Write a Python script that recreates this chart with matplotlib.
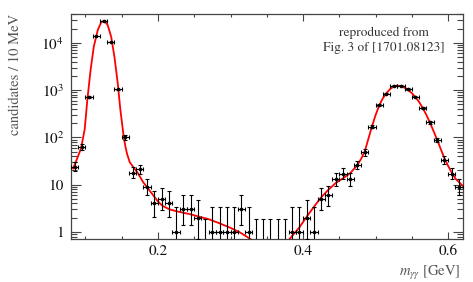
import numpy as np
import matplotlib
matplotlib.use('Agg')
import matplotlib.pyplot as plt
from matplotlib.ticker import MultipleLocator, FuncFormatter, LogLocator, NullFormatter, FormatStrFormatter

plt.rcParams['font.family'] = 'STIXGeneral'
plt.rcParams['mathtext.fontset'] = 'stix'

# diphoton mass bins, 10 MeV wide
bin_centers = np.round(np.arange(0.085, 0.616, 0.01), 3)
counts = [24, 63, 710, 13900, 29000, 10500, 1030, 100, 18, 21,
          9, 4, 5, 4, 1, 3, 3, 2, 0, 1,
          1, 1, 1, 3, 1, 0, 0, 0, 0, 0,
          1, 1, 2, 1, 5, 6, 13, 17, 13, 26,
          48, 168, 484, 840, 1240, 1240, 1050, 730, 425, 209,
          88, 33, 17, 9]

# fit curve (pi0 side and eta side)
fit1_x = [0.083, 0.088, 0.094, 0.099, 0.1025, 0.107, 0.1115, 0.117, 0.1215, 0.1255,
          0.1305, 0.1355, 0.140, 0.1445, 0.148, 0.1525, 0.155, 0.1575, 0.161, 0.1655,
          0.1725, 0.179, 0.186, 0.193, 0.200, 0.2065, 0.216, 0.2295, 0.243, 0.257,
          0.2705, 0.2845, 0.298, 0.312, 0.321, 0.3292]
fit1_y = [22, 34, 59, 150, 600, 2600, 8300, 18600, 26800, 29500,
          24000, 13400, 5000, 1400, 400, 110, 65, 44, 30, 24,
          17.4, 11.6, 8.4, 6.1, 4.4, 3.55, 3.0, 2.65, 2.4, 2.1,
          1.85, 1.53, 1.26, 1.0, 0.82, 0.68]
fit2_x = [0.3804, 0.395, 0.405, 0.415, 0.425, 0.435, 0.445, 0.455, 0.465, 0.475,
          0.48, 0.485, 0.49, 0.495, 0.50, 0.505, 0.51, 0.515, 0.52, 0.525,
          0.53, 0.535, 0.54, 0.545, 0.55, 0.555, 0.56, 0.565, 0.57, 0.575,
          0.58, 0.585, 0.59, 0.595, 0.60, 0.605, 0.61, 0.62]
fit2_y = [0.68, 1.25, 2.1, 3.4, 5.4, 7.8, 10.8, 13.6, 17.5, 26,
          35, 50, 92, 170, 295, 470, 670, 860, 1050, 1190,
          1240, 1210, 1120, 1000, 860, 710, 560, 420, 300, 205,
          135, 88, 56, 36, 25, 18, 13.5, 9.5]

n = np.array(counts, dtype=float)
x = bin_centers
nz = n > 0

# approximate poisson 68% intervals (Gehrels)
err_hi = 1 + np.sqrt(n + 0.75)
err_lo = np.zeros_like(n)
err_lo[nz] = n[nz] - n[nz] * (1 - 1/(9*n[nz]) - 1/(3*np.sqrt(n[nz])))**3

fig = plt.figure(figsize=(4.73, 2.82), dpi=100)
ax = fig.add_axes([0.150, 0.1525, 0.828, 0.7975])

ax.plot(fit1_x, fit1_y, color='red', lw=1.3, zorder=3)
ax.plot(fit2_x, fit2_y, color='red', lw=1.3, zorder=3)

ax.errorbar(x[nz], n[nz], xerr=0.005, yerr=[err_lo[nz], err_hi[nz]],
            fmt='o', ms=1.6, color='k', elinewidth=0.8, capsize=1.2, capthick=0.8, zorder=4)
# empty bins: only upper limit bar
zx = x[~nz]
zu = err_hi[~nz]
ax.errorbar(zx, zu, yerr=[zu - 1e-3, np.zeros_like(zu)], fmt='none', color='k',
            elinewidth=0.8, capsize=1.2, capthick=0.8, zorder=4)

ax.set_yscale('log')
ax.set_xlim(0.08, 0.62)
ax.set_ylim(0.71, 40400)

ax.xaxis.set_major_locator(MultipleLocator(0.2))
ax.xaxis.set_minor_locator(MultipleLocator(0.05))
ax.xaxis.set_major_formatter(FormatStrFormatter('%.1f'))

def ylab(v, pos):
    e = int(round(np.log10(v)))
    if e == 0:
        return '1'
    if e == 1:
        return '10'
    return r'$10^{%d}$' % e

ax.yaxis.set_major_locator(LogLocator(base=10, numticks=10))
ax.yaxis.set_major_formatter(FuncFormatter(ylab))
ax.yaxis.set_minor_locator(LogLocator(base=10, subs=np.arange(2, 10), numticks=10))
ax.yaxis.set_minor_formatter(NullFormatter())

ax.tick_params(which='both', direction='in', top=True, right=True, color='#444',
               labelsize=11, labelcolor='#111', width=0.8)
ax.tick_params(axis='y', which='major', length=7.5, pad=5)
ax.tick_params(axis='y', which='minor', length=4)
ax.tick_params(axis='x', which='major', length=5, pad=4)
ax.tick_params(axis='x', which='minor', length=2.5)
for s in ax.spines.values():
    s.set_color('#444')
    s.set_linewidth(0.9)

ax.set_ylabel('candidates / 10 MeV', loc='top', color='#555', fontsize=10.5)
ax.yaxis.set_label_coords(-0.125, 1.0)
ax.set_xlabel(r'$m_{\gamma\gamma}$ [GeV]', loc='right', color='#555', fontsize=10.5)
ax.xaxis.set_label_coords(0.995, -0.113)

ax.text(0.798, 0.882, 'reproduced from\nFig. 3 of [1701.08123]', transform=ax.transAxes,
        ha='center', va='center', fontsize=9.6, color='#333', linespacing=1.3)

fig.savefig('out.png', dpi=100)
